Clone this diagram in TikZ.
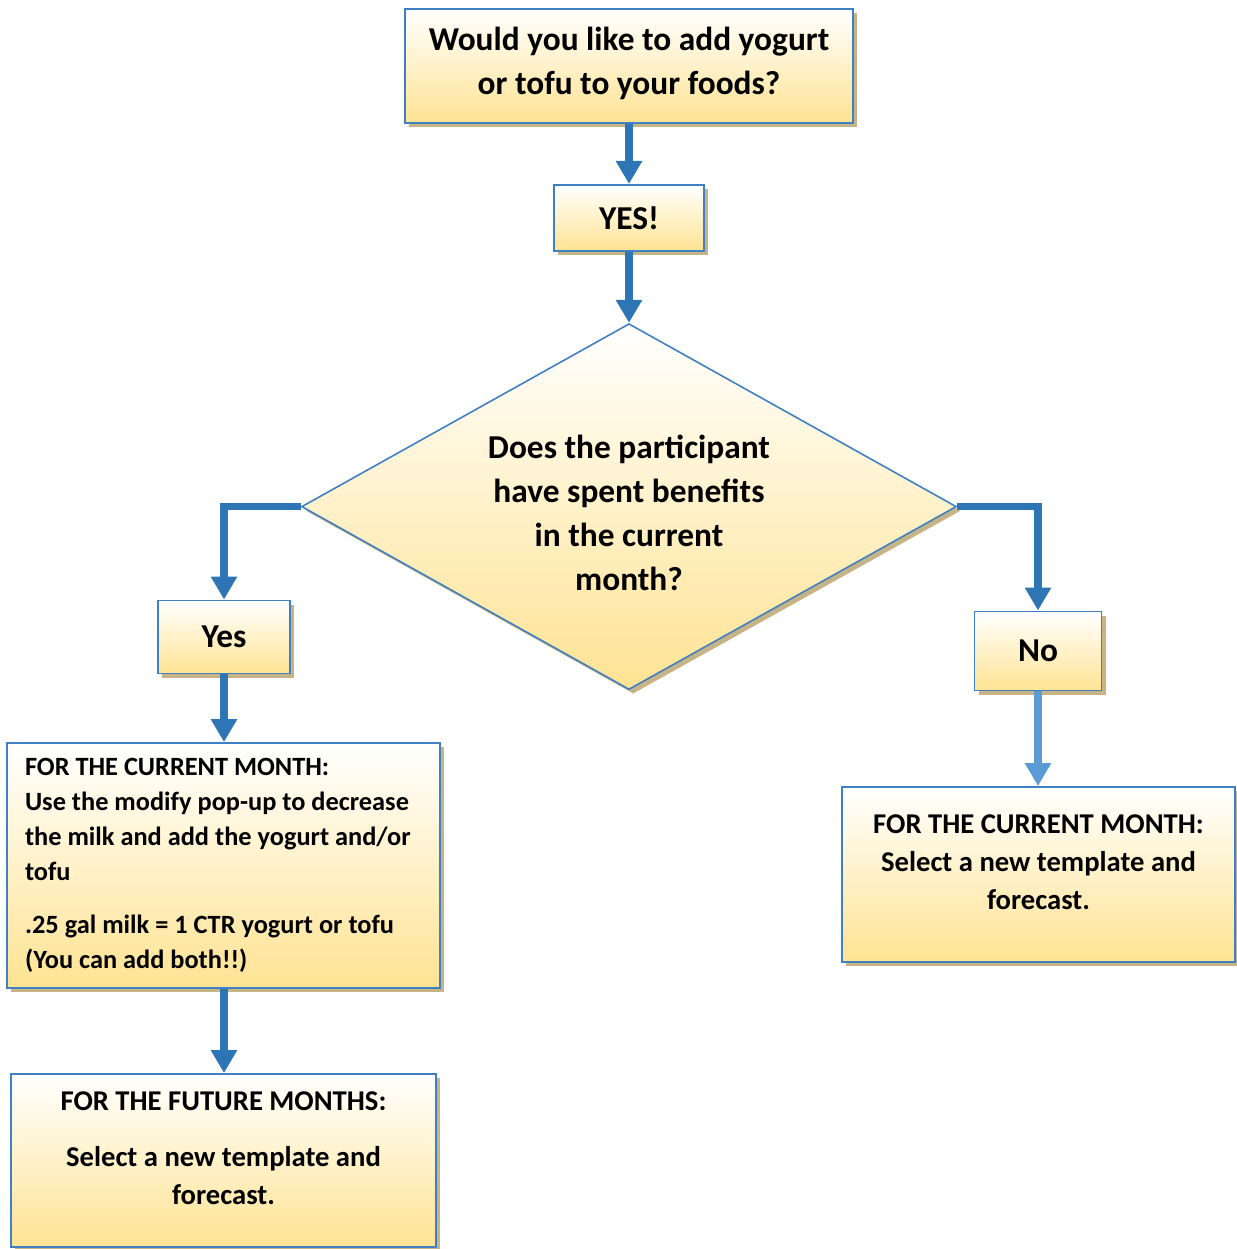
\documentclass[tikz,border=0pt]{standalone}
\usepackage{fontspec}
\setmainfont{Carlito}
\usetikzlibrary{arrows.meta, positioning, shapes.geometric, shadows}
\definecolor{flowblue}{HTML}{2E75B6}
\definecolor{paleblue}{HTML}{5B9BD5}
\definecolor{edgeblue}{HTML}{3F7FC3}
\definecolor{boxgold}{HTML}{FFE393}
\definecolor{shadowtan}{HTML}{C6B487}

\begin{document}
\begin{tikzpicture}[
      x=0.02cm, y=-0.02cm,
      >={Triangle[width=0.5cm, length=0.46cm]},
      box/.style={rectangle, draw=edgeblue, line width=1.1pt, align=center,
                  top color=white, bottom color=boxgold, inner sep=0pt,
                  drop shadow={shadow xshift=2.4pt, shadow yshift=-2.4pt,
                               fill=shadowtan, opacity=1}},
      bigtext/.style={font=\bfseries\fontsize{19}{25}\selectfont},
      midtext/.style={font=\bfseries\fontsize{16.3}{21.5}\selectfont},
      smalltext/.style={font=\bfseries\fontsize{15}{19.8}\selectfont},
      decision/.style={box, diamond, aspect=1.79, line width=0.9pt,
                       minimum width=13.1cm, minimum height=7.32cm},
      flow/.style={->, line width=4pt, draw=flowblue},
    ]
      \useasboundingbox (0,0) rectangle (1237,1249);

      % question and answer
      \node[box, bigtext, minimum width=8.96cm, minimum height=2.28cm, text depth=0.2cm] (ask) at (629,66)
        {Would you like to add yogurt\\ or tofu to your foods?};
      \node[box, bigtext, minimum width=3cm, minimum height=1.32cm, below=1.2cm of ask] (yesall) {YES!};
      \node[decision, bigtext, below=1.42cm of yesall] (spent)
        {\rule{0pt}{20.5pt}Does the participant\\ have spent benefits\\ in the current\\ month?};

      % branches
      \node[box, bigtext, minimum width=2.64cm, minimum height=1.46cm] (yes) at (224,637) {Yes};
      \node[box, bigtext, minimum width=2.54cm, minimum height=1.58cm] (no) at (1038,651) {No};

      \node[box, smalltext, align=flush left, text width=7.94cm, inner xsep=0.36cm,
            minimum height=4.9cm] (nowleft) at (223.5,865.5)
        {FOR THE CURRENT MONTH:\\
         Use the modify pop-up to decrease\\
         the milk and add the yogurt and/or\\
         tofu\\[0.38cm]
         .25 gal milk = 1 CTR yogurt or tofu\\
         (You can add both!!)};
      \node[box, midtext, minimum width=7.86cm, minimum height=3.5cm, text depth=0.5cm] (nowright) at (1038.5,874.5)
        {FOR THE CURRENT MONTH:\\ Select a new template and\\ forecast.};
      \node[box, midtext, minimum width=8.5cm, minimum height=3.46cm, text depth=0.5cm] (later) at (223.5,1160.5)
        {FOR THE FUTURE MONTHS:\\[0.38cm] Select a new template and\\ forecast.};

      \draw[flow] (ask) -- (yesall);
      \draw[flow] (yesall) -- (spent);
      \draw[flow] (spent.west) -| (yes.north);
      \draw[flow] (spent.east) -| (no.north);
      \draw[flow] (yes.south) -- (yes.south |- nowleft.north);
      \draw[flow] (nowleft.south -| yes.south) -- (yes.south |- later.north);
      \draw[flow, draw=paleblue] (no.south) -- (no.south |- nowright.north);
    \end{tikzpicture}
\end{document}
